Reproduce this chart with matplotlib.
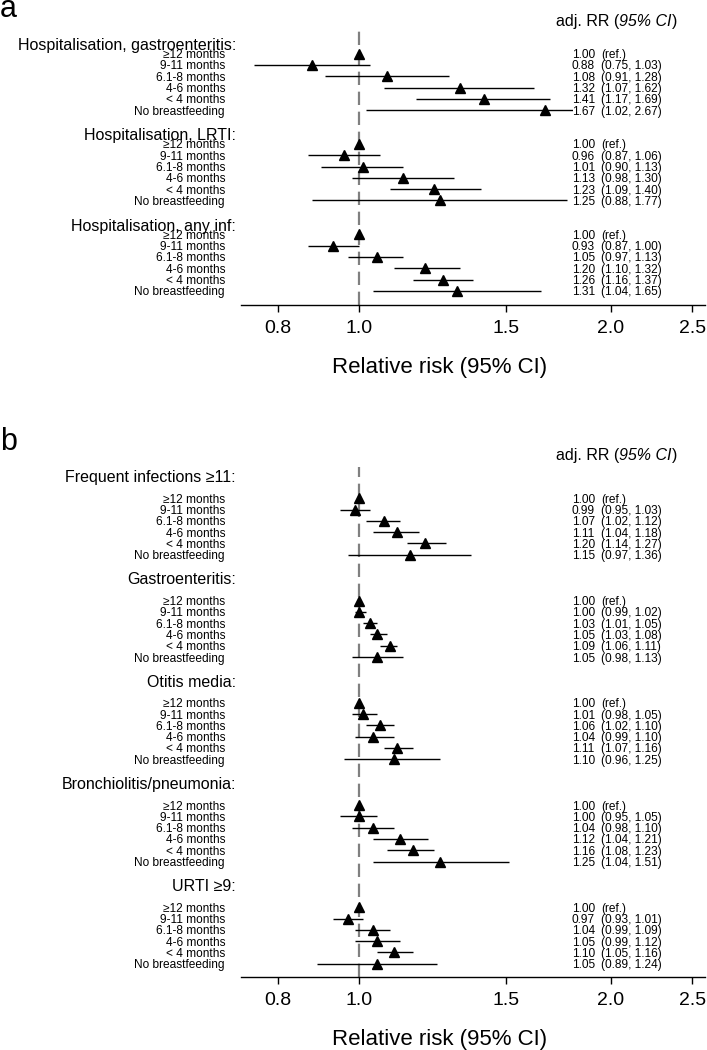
import numpy as np
import matplotlib
matplotlib.use("Agg")
import matplotlib.pyplot as plt
from matplotlib.patches import Rectangle
from matplotlib.transforms import blended_transform_factory
from matplotlib.ticker import NullLocator

plt.rcParams['font.family'] = ['Liberation Sans', 'DejaVu Sans']

row_labels = ["\u226512 months", "9-11 months", "6.1-8 months", "4-6 months",
              "< 4 months", "No breastfeeding"]

# panel a
groups_a = ["Hospitalisation, gastroenteritis:", "Hospitalisation, LRTI:",
            "Hospitalisation, any inf:"]
rr_a = [[1.00, 0.88, 1.08, 1.32, 1.41, 1.67],
        [1.00, 0.96, 1.01, 1.13, 1.23, 1.25],
        [1.00, 0.93, 1.05, 1.20, 1.26, 1.31]]
lo_a = [[np.nan, 0.75, 0.91, 1.07, 1.17, 1.02],
        [np.nan, 0.87, 0.90, 0.98, 1.09, 0.88],
        [np.nan, 0.87, 0.97, 1.10, 1.16, 1.04]]
hi_a = [[np.nan, 1.03, 1.28, 1.62, 1.69, 2.67],
        [np.nan, 1.06, 1.13, 1.30, 1.40, 1.77],
        [np.nan, 1.00, 1.13, 1.32, 1.37, 1.65]]

# panel b
groups_b = ["Frequent infections \u226511:", "Gastroenteritis:", "Otitis media:",
            "Bronchiolitis/pneumonia:", "URTI \u22659:"]
rr_b = [[1.00, 0.99, 1.07, 1.11, 1.20, 1.15],
        [1.00, 1.00, 1.03, 1.05, 1.09, 1.05],
        [1.00, 1.01, 1.06, 1.04, 1.11, 1.10],
        [1.00, 1.00, 1.04, 1.12, 1.16, 1.25],
        [1.00, 0.97, 1.04, 1.05, 1.10, 1.05]]
lo_b = [[np.nan, 0.95, 1.02, 1.04, 1.14, 0.97],
        [np.nan, 0.99, 1.01, 1.03, 1.06, 0.98],
        [np.nan, 0.98, 1.02, 0.99, 1.07, 0.96],
        [np.nan, 0.95, 0.98, 1.04, 1.08, 1.04],
        [np.nan, 0.93, 0.99, 0.99, 1.05, 0.89]]
hi_b = [[np.nan, 1.03, 1.12, 1.18, 1.27, 1.36],
        [np.nan, 1.02, 1.05, 1.08, 1.11, 1.13],
        [np.nan, 1.05, 1.10, 1.10, 1.16, 1.25],
        [np.nan, 1.05, 1.10, 1.21, 1.23, 1.51],
        [np.nan, 1.01, 1.09, 1.12, 1.16, 1.24]]

xticks = [0.8, 1.0, 1.5, 2.0, 2.5]
xticklabels = ["0.8", "1.0", "1.5", "2.0", "2.5"]

W, H = 707, 1050
fig = plt.figure(figsize=(W / 100, H / 100), dpi=100)


def fx(px):
    return px / W


def fy(py):
    return 1 - py / H


def forest(ax, groups, rr, lo, hi, step, offset, ylim, hdr_py, letter, letter_py):
    tr = blended_transform_factory(fig.transFigure, ax.transData)
    # CI lines stop where the value column starts
    clip = Rectangle((0.5, -10), 1.3, 80, transform=ax.transData)
    ax.axvline(1.0, color='#808080', lw=1.6, dashes=(6, 3), zorder=1)
    for g, name in enumerate(groups):
        y0 = g * step
        ys = y0 + offset + np.arange(len(row_labels))
        ax.text(fx(236), y0, name, transform=tr, ha='right', va='center_baseline',
                fontsize=11.5)
        lc = ax.hlines(ys, lo[g], hi[g], color='black', lw=1.0, zorder=2)
        lc.set_clip_path(clip)
        ax.plot(rr[g], ys, '^', color='black', ms=7, ls='none', zorder=3)
        for i, lab in enumerate(row_labels):
            ax.text(fx(225), ys[i], lab, transform=tr, ha='right',
                    va='center_baseline', fontsize=8.6)
            ax.text(fx(572), ys[i], f"{rr[g][i]:.2f}", transform=tr, ha='left',
                    va='center_baseline', fontsize=8.6)
            if np.isnan(lo[g][i]):
                ci = "(ref.)"
            else:
                ci = f"({lo[g][i]:.2f}, {hi[g][i]:.2f})"
            ax.text(fx(601), ys[i], ci, transform=tr, ha='left',
                    va='center_baseline', fontsize=8.6)

    ax.set_xscale('log')
    ax.set_xlim(0.723, 2.59)
    ax.set_ylim(*ylim)
    ax.set_xticks(xticks)
    ax.set_xticklabels(xticklabels)
    ax.xaxis.set_minor_locator(NullLocator())
    ax.set_yticks([])
    for s in ['top', 'right', 'left']:
        ax.spines[s].set_visible(False)
    ax.spines['bottom'].set_linewidth(1.0)
    ax.tick_params(axis='x', labelsize=14, length=5, width=1.0, pad=6)

    # header of the value column
    t1 = fig.text(fx(556), fy(hdr_py), "adj. RR (", fontsize=11.5, va='center_baseline')
    t2 = ax.annotate("95% CI", xy=(1, 0), xycoords=t1, va='bottom', ha='left',
                     fontsize=11.5, style='italic', annotation_clip=False)
    ax.annotate(")", xy=(1, 0), xycoords=t2, va='bottom', ha='left',
                fontsize=11.5, annotation_clip=False)
    fig.text(0.0, fy(letter_py), letter, fontsize=22, va='baseline', ha='left')


ax_a = fig.add_axes([fx(241), fy(305), fx(464), 275 / H])
forest(ax_a, groups_a, rr_a, lo_a, hi_a, 8.0, 0.85, (23.1, -1.24), 20, 'a', 17)
fig.text(fx(440), fy(368), "Relative risk (95% CI)", fontsize=16, ha='center', va='center')

ax_b = fig.add_axes([fx(241), fy(977), fx(464), 510 / H])
forest(ax_b, groups_b, rr_b, lo_b, hi_b, 9.05, 1.97, (44.34, -0.8), 454, 'b', 450)
fig.text(fx(440), fy(1039), "Relative risk (95% CI)", fontsize=16, ha='center', va='center')

fig.savefig("out.png", dpi=100)
